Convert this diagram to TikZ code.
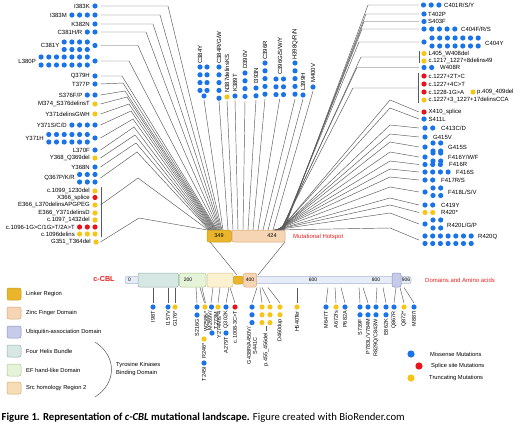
\documentclass[tikz,border=0pt]{standalone}
\usepackage{fontspec}
\setmainfont{Liberation Sans}
\newfontfamily\capfont{Carlito}
\definecolor{cB}{HTML}{1A73E8}
\definecolor{cY}{HTML}{F5C518}
\definecolor{cR}{HTML}{E8141B}
\definecolor{ln}{HTML}{5A5A5A}
\definecolor{linker}{HTML}{E9B52A}
\definecolor{linkerd}{HTML}{C99A1E}
\definecolor{zinc}{HTML}{F6D5B4}
\definecolor{zincd}{HTML}{D9A77A}
\definecolor{uba}{HTML}{C7CBEA}
\definecolor{ubad}{HTML}{8A90C2}
\definecolor{fhb}{HTML}{D7E7E4}
\definecolor{fhbd}{HTML}{94B0AA}
\definecolor{efh}{HTML}{E5F3D8}
\definecolor{efhd}{HTML}{A9C98F}
\definecolor{sh2}{HTML}{FBF0D0}
\definecolor{sh2d}{HTML}{DCC58A}
\definecolor{srcl}{HTML}{F6DDB5}
\definecolor{srcd}{HTML}{D3A96C}
\definecolor{barc}{HTML}{E6EDF8}
\definecolor{bard}{HTML}{A9B8D6}
\definecolor{hot}{HTML}{E8221E}
\newcommand\DT[3]{\fill[#1] (#2,#3) circle[radius=2.6];}
\newcommand\RowL[4]{\foreach \k in {1,...,#4}{\fill[#1] ({#2-(\k-1)*7.7},#3) circle[radius=2.6];}}
\newcommand\RowR[4]{\foreach \k in {1,...,#4}{\fill[#1] ({#2+(\k-1)*7.7},#3) circle[radius=2.6];}}
\newcommand\ColD[4]{\foreach \k in {1,...,#4}{\fill[#1] (#2,{#3+(\k-1)*7.8}) circle[radius=2.6];}}
\tikzset{
  lab/.style={font=\fontsize{6}{6.5}\selectfont, inner sep=0pt},
  labl/.style={lab, anchor=east},
  labr/.style={lab, anchor=west},
  labt/.style={lab, rotate=90, anchor=west},
  labb/.style={lab, font=\fontsize{5.5}{6}\selectfont, rotate=90, anchor=east, align=center},
  conn/.style={draw=ln, line width=0.45pt},
  dom/.style={rounded corners=2pt, line width=0.5pt},
  leg/.style={font=\fontsize{5.8}{6.5}\selectfont, inner sep=0pt, anchor=west},
}
\begin{document}
\begin{tikzpicture}[x=1pt,y=-1pt]
\useasboundingbox (0,0) rectangle (520,426);
\fill[white] (0,0) rectangle (520,426);

% ---------------- left labels ----------------
\node[labl] (L1) at (90,6) {I383K}; \DT{cB}{95}{6}
\node[labl] (L2) at (67,15) {I383M}; \RowL{cB}{95}{15}{4}
\node[labl] (L3) at (90,24) {K382N}; \DT{cB}{95}{24}
\node[labl] (L4) at (82.5,32) {C381H/R}; \RowL{cB}{95}{32}{2}
\node[labl] (L5) at (59.5,45.5) {C381Y}; \RowL{cB}{87.3}{42}{4}\RowL{cB}{87.3}{49.5}{4}\DT{cB}{95}{45.5}
\node[labl] (L6) at (36,61) {L380P}; \RowL{cB}{87.3}{57}{7}\RowL{cB}{87.3}{65}{7}\DT{cB}{95}{61}
\node[labl] (L7) at (90,76) {Q379H}; \DT{cB}{95}{76}
\node[labl] (L8) at (90,84) {T377P}; \DT{cB}{95}{84}
\node[labl] (L9) at (82.5,95) {S376F/P}; \RowL{cB}{95}{95}{2}
\node[labl] (L10) at (90,104) {M374\_S376delinsT}; \DT{cY}{95}{104}
\node[labl] (L11) at (90,114) {Y371delinsGWH}; \DT{cY}{95}{114}
\node[labl] (L12) at (67,125) {Y371S/C/D}; \RowL{cB}{95}{125}{4}
\node[labl] (L13) at (44,138) {Y371H}; \RowL{cB}{87.3}{134.5}{6}\RowL{cB}{87.3}{142}{6}\DT{cB}{95}{138}
\node[labl] (L14) at (90,150) {L370F}; \DT{cB}{95}{150}
\node[labl] (L15) at (90,158) {Y368\_Q369del}; \DT{cY}{95}{158}
\node[labl] (L16) at (90,167) {Y368N}; \DT{cB}{95}{167}
\node[labl] (L17) at (75,178) {Q367P/K/R}; \RowL{cB}{95}{174.5}{3}\RowL{cB}{95}{182}{3}
\node[labl] (L18) at (90,191) {c.1099\_1230del}; \DT{cY}{95}{191}
\node[labl] (L19) at (90,197.5) {X366\_splice}; \DT{cR}{95}{197.5}
\node[labl] (L20) at (90,205) {E366\_L370delinsAPGPEG}; \DT{cY}{95}{205}
\node[labl] (L21) at (90,213) {E366\_Y371delinsD}; \DT{cY}{95}{213}
\node[labl] (L22) at (90,220) {c.1097\_1432del}; \DT{cY}{95}{220}
\node[labl] (L23) at (75,227) {c.1096-1G>C/1G>T/2A>T}; \RowL{cR}{95}{227}{3}
\node[labl] (L24) at (75,234) {c.1096delins}; \RowL{cY}{95}{234}{3}
\node[labl] (L25) at (91,242) {G351\_T364del}; \DT{cY}{96}{242}
\draw[conn] (101,187) -- (101,237);

% ---------------- top vertical labels ----------------
\node[labt] (T1) at (200,64) {C384Y}; \ColD{cB}{200}{67}{4}\ColD{cB}{207}{67}{4}\DT{cB}{204}{96}
\node[labt] (T2) at (219,64) {C384R/G/W}; \ColD{cB}{219}{67}{5}
\node[labt] (T3) at (227,93) {N387delinsKS}; \DT{cY}{227}{97}
\node[labt] (T4) at (235,92) {K389T}; \DT{cB}{235}{96}
\node[labt] (T5) at (245,69) {D390V}; \ColD{cB}{245}{73}{4}
\node[labt] (T6) at (256,84) {I393N}; \ColD{cB}{256}{88}{2}
\node[labt] (T7) at (265,60) {C396R}; \ColD{cB}{265}{63}{5}
\node[labt] (T8) at (280,75) {C396G/S/W/Y}; \ColD{cB}{276}{79}{3}\ColD{cB}{283.5}{79}{3}
\node[labt] (T9) at (295,60) {H398Q/R/N}; \ColD{cB}{295}{63}{5}
\node[labt] (T10) at (303,91) {L399H}; \DT{cB}{303}{95}
\node[labt] (T11) at (313,83) {M400V}; \DT{cB}{313}{87}

% ---------------- right labels ----------------
\node[labr] (R1) at (444,5) {C401R/S/Y}; \RowR{cB}{423.5}{5}{3}
\node[labr] (R2) at (428,14) {T402P}; \DT{cB}{424}{14}
\node[labr] (R3) at (428,21.5) {S403F}; \DT{cB}{424}{21.5}
\node[labr] (R4) at (461,29) {C404F/R/S}; \RowR{cB}{424}{29}{5}
\node[labr] (R5) at (485,43) {C404Y}; \DT{cB}{424}{42}\RowR{cB}{432}{38}{7}\RowR{cB}{432}{46}{7}
\node[labr] (R6) at (428.5,53.5) {L405\_W408del}; \DT{cY}{424}{53.5}
\node[labr] (R7) at (428.5,61) {c.1217\_1227+8delins49}; \DT{cY}{424}{61}
\node[labr] (R8) at (440,67.5) {W408R}; \RowR{cB}{424}{67.5}{2}
\node[labr] (R9) at (428.5,76) {c.1227+2T>C}; \DT{cR}{424}{76}
\node[labr] (R10) at (428.5,84) {c.1227+4C>T}; \DT{cR}{424}{84}
\node[labr] (R11) at (428.5,92) {c.1228-1G>A}; \DT{cR}{424}{92}
\node[labr] (R11b) at (477,92) {p.409\_409del}; \DT{cY}{473}{92}
\node[labr] (R12) at (428.5,100) {c.1227+3\_1227+17delinsCCA}; \DT{cY}{424}{100}
\node[labr] (R13) at (428.5,112) {X410\_splice}; \DT{cR}{424}{112}
\node[labr] (R14) at (428.5,119) {S411L}; \DT{cB}{424}{119}
\node[labr] (R15) at (441,128) {C413C/D}; \RowR{cB}{425}{128}{2}
\node[labr] (R16) at (433,137) {G415V}; \DT{cB}{425}{137}
\node[labr] (R17) at (448,147) {G415S}; \DT{cB}{425}{147}\RowR{cB}{433}{143}{2}\RowR{cB}{433}{151}{2}
\node[labr] (R18) at (448,157) {F416Y/W/F}; \DT{cB}{425}{157}\RowR{cB}{433}{153}{2}\RowR{cB}{433}{161}{2}
\node[labr] (R19) at (449,164.5) {F416R}; \RowR{cB}{425}{164.5}{3}
\node[labr] (R20) at (456,172) {F416S}; \RowR{cB}{425}{172}{4}
\node[labr] (R21) at (441,180) {F417R/S}; \RowR{cB}{425}{180}{2}
\node[labr] (R22) at (448,192) {F418L/S/V}; \DT{cB}{425}{192}\RowR{cB}{433}{188}{2}\RowR{cB}{433}{195.5}{2}
\node[labr] (R23) at (441,205) {C419Y}; \RowR{cB}{425}{205}{2}
\node[labr] (R24) at (441,212.5) {R420*}; \RowR{cY}{425}{212.5}{2}
\node[labr] (R25) at (447,225) {R420L/G/P}; \DT{cB}{425}{224}\RowR{cB}{433}{220}{2}\RowR{cB}{433}{228}{2}
\node[labr] (R26) at (478,237) {R420Q}; \RowR{cB}{425}{236}{7}\RowR{cB}{425}{243.5}{7}
\draw[conn] (419,51) -- (419,63);
\draw[conn] (418.5,73) -- (418.5,103);

% ---------------- hotspot box ----------------
\draw[dom, fill=linker, draw=linkerd] (207,230) rectangle (231.5,242);
\draw[dom, fill=zinc, draw=zincd] (232,230) rectangle (285,242);
\node[lab, font=\fontsize{5.5}{6}\selectfont] (h349) at (219,236) {349};
\node[lab, font=\fontsize{5.5}{6}\selectfont] (h424) at (272,236) {424};
\node[lab, text=hot, anchor=west] (mh) at (293,237) {Mutational Hotspot};

% ---------------- fan connectors ----------------
\foreach \y/\bx/\by [count=\i] in {6/168/6,15/160/15,24/153/24,32/146/32,45.5/138/45.5,61/129/61,76/122/76,84/123/83,95/125/91,104/127/97,114/129/104,125/131/111,138/133/119,150/134/127,158/135/135,167/136/143,178/137/152,205/138/178,242/139/218}{
  \coordinate (ls\i) at (100.5,\y);
  \coordinate (lb\i) at (\bx,\by);
  \coordinate (lt\i) at ({222-(\i-1)*0.8},230);
  \draw[conn] (ls\i) -- (lb\i) -- (lt\i);
}

\foreach \x/\y/\tx [count=\i] in {204/100/223,219/101/228,227/101/233,235/100/238,245/101/243,256/100/248,265/99/253,279.7/99/258,295/99/263,303/99/268,313/91/273}{
  \coordinate (ts\i) at (\x,\y);
  \coordinate (tt\i) at (\tx,230);
  \draw[conn] (ts\i) -- (tt\i);
}

\foreach \y/\bx/\tx [count=\i] in {5/368/284,14/366/283.5,21.5/364/283,29/362/282.5,42/359/282,57/361/281.5,67.5/357/281,88/353/280.5}{
  \coordinate (rs\i) at (419,\y);
  \coordinate (rb\i) at (\bx,\y);
  \coordinate (rt\i) at (\tx,230);
  \draw[conn] (rs\i) -- (rb\i) -- (rt\i);
}
\foreach \y/\ym/\tx [count=\i] in {112/100/280,119/108/279.5,128/125/279,137/134/278.5,147/142/278,157/152/277.5,164.5/161/277,172/169/276.5,180/177/276,192/187/275.5,205/198/275,212.5/205/274.5,224/213/274,240/228/273.5}{
  \coordinate (qs\i) at (419,\y);
  \coordinate (qm\i) at (390,\ym);
  \coordinate (qt\i) at (\tx,230);
  \draw[conn] (qs\i) -- (qm\i) -- (qt\i);
}

% ---------------- main protein bar ----------------
\node[lab, text=hot, font=\bfseries\fontsize{7.2}{8}\selectfont] (ccbl) at (104,279.5) {c-CBL};
\draw[dom, rounded corners=1.5pt, fill=barc, draw=bard] (125,276.5) rectangle (140,283.5);
\node[lab, font=\fontsize{5}{5}\selectfont] (n0) at (129.5,280) {0};
\draw[dom, fill=barc, draw=bard] (250,276.5) rectangle (411,283.5);
\draw[dom, fill=fhb, draw=fhbd] (138,273) rectangle (178.5,287);
\draw[dom, fill=efh, draw=efhd] (179.5,273) rectangle (206,287);
\draw[dom, fill=sh2, draw=sh2d] (207,273) rectangle (233,287);
\draw[dom, fill=linker, draw=linkerd] (233.5,276) rectangle (243,284);
\draw[dom, fill=zinc, draw=zincd] (243.5,273) rectangle (256.5,287);
\draw[dom, fill=uba, draw=ubad] (392,273) rectangle (401,287);
\node[lab, font=\fontsize{5}{5}\selectfont] (n200) at (188,280) {200};
\node[lab, font=\fontsize{5}{5}\selectfont] (n400) at (250,280) {400};
\node[lab, font=\fontsize{5}{5}\selectfont] (n600) at (313,280) {600};
\node[lab, font=\fontsize{5}{5}\selectfont] (n800) at (376,280) {800};
\node[lab, font=\fontsize{5}{5}\selectfont] (n906) at (406,280) {906};
\node[lab, text=hot, anchor=west] (dna) at (425,280) {Domains and Amino acids};
\coordinate (hbl) at (210,242); \coordinate (hbr) at (285,242);
\coordinate (mbl) at (237,275); \coordinate (mbr) at (258,275);
\draw[conn] (hbl) -- (mbl);
\draw[conn] (hbr) -- (mbr);

% ---------------- bottom ticks ----------------
\foreach \xb/\xd [count=\i] in {153/153,168/168,175/175,196/197,200/204.5,202/205.5,213/211,220/218,229/226,230/235,257/252,260/262,262/270,268/280,297/297,328/326,335/336,341/345,359/360,363/368,377/376,383/386,396/394,400/404,404/414}{
  \coordinate (bb\i) at (\xb,287.5);
  \coordinate (bd\i) at (\xd,303);
  \draw[conn] (bb\i) -- (bd\i);
}
% ---------------- bottom labels ----------------
\DT{cB}{153}{307} \node[labb] (B1) at (153,311) {I98T};
\DT{cB}{168}{307} \node[labb] (B2) at (168,311) {I157V};
\DT{cY}{175}{307} \node[labb] (B3) at (175,311) {G176*};
\DT{cB}{197}{307}\DT{cB}{197}{315} \node[labb] (B4) at (197,319) {S216G};
\DT{cY}{205}{307} \node[labb] (B5) at (206,311) {W258fs*};
\DT{cY}{204}{339} \node[labb] (B6) at (204,343) {R246*};
\DT{cB}{204}{363} \node[labb] (B7) at (204,367) {T245I};
\DT{cB}{211.5}{307}\DT{cB}{212}{333} \node[labb] (B8) at (213,311) {M269V/\\T273M};
\DT{cY}{218}{307} \node[labb] (B9) at (219,311) {Y274Mfs*4};
\DT{cB}{226}{307} \node[labb] (B10) at (226,311) {Q302K};
\DT{cB}{226}{333} \node[labb] (B11) at (226,337) {A279T};
\DT{cR}{235}{307} \node[labb] (B12) at (235,311) {c.1008-3C>T};
\ColD{cB}{252}{307}{3} \node[labb] (B13) at (252,327) {G438R/A450V/\\S441C};
\ColD{cY}{262}{307}{3}\ColD{cY}{270}{307}{3}
\draw[conn] (266,326) -- (266,331);
\node[labb] (B14) at (266,333) {p.455\_456del};
\ColD{cY}{280}{307}{2} \node[labb] (B15) at (280,319) {D460dup};
\DT{cY}{297}{307} \node[labb] (B16) at (297,311) {H540Ter};
\DT{cB}{326}{307} \node[labb] (B17) at (326,311) {M647T};
\DT{cY}{336}{307} \node[labb] (B18) at (336,311) {A672fs};
\DT{cB}{345}{307} \node[labb] (B19) at (345,311) {P682A};
\ColD{cB}{360}{307}{2} \node[labb] (B20) at (360,319) {S739F};
\ColD{cB}{368}{307}{2} \node[labb] (B21) at (368,319) {P783L/V784M};
\ColD{cB}{376}{307}{2} \node[labb] (B22) at (376,319) {R829Q/C843W};
\ColD{cB}{386}{307}{2} \node[labb] (B23) at (386,319) {E862K};
\DT{cB}{394}{307} \node[labb] (B24) at (394,311) {Q867R};
\DT{cY}{404}{307} \node[labb] (B25) at (404,311) {Q872*};
\DT{cB}{414}{307} \node[labb] (B26) at (414,311) {M887I};

% ---------------- legend ----------------
\draw[dom, fill=linker, draw=linkerd] (7,288) rectangle (21,300); \node[leg] (g1) at (26,294) {Linker Region};
\draw[dom, fill=zinc, draw=zincd] (7,307) rectangle (21,319); \node[leg] (g2) at (26,313) {Zinc Finger Domain};
\draw[dom, fill=uba, draw=ubad] (7,326) rectangle (21,338); \node[leg] (g3) at (26,332) {Ubiquitin-association Domain};
\draw[dom, fill=fhb, draw=fhbd] (7,345) rectangle (21,357); \node[leg] (g4) at (26,351) {Four Helix Bundle};
\draw[dom, fill=efh, draw=efhd] (7,364) rectangle (21,376); \node[leg] (g5) at (26,370) {EF hand-like Domain};
\draw[dom, fill=srcl, draw=srcd] (7,382) rectangle (21,394); \node[leg] (g6) at (26,388) {Src homology Region 2};
\coordinate (arcA) at (95,342); \coordinate (arcB) at (95,397);
\draw[line width=0.5pt, draw=ln] (arcA) .. controls (117,356) and (117,383) .. (arcB);
\node[leg] (tk1) at (116,365) {Tyrosine Kinases};
\node[leg] (tk2) at (116,372.5) {Binding Domain};

\fill[cB] (411,354) circle[radius=3.6]; \node[leg] (m1) at (430,354) {Missense Mutations};
\fill[cR] (419,366) circle[radius=3.6]; \node[leg] (m2) at (431,366) {Splice site Mutations};
\fill[cY] (411,378) circle[radius=3.6]; \node[leg] (m3) at (429,378) {Truncating Mutations};

% ---------------- caption ----------------
\node[anchor=west, inner sep=0pt, font=\capfont\fontsize{10.7}{11}\selectfont] (cap) at (1.5,418)
 {\textbf{Figure 1. Representation of \textit{c-CBL} mutational landscape.} Figure created with BioRender.com};
\end{tikzpicture}
\end{document}
